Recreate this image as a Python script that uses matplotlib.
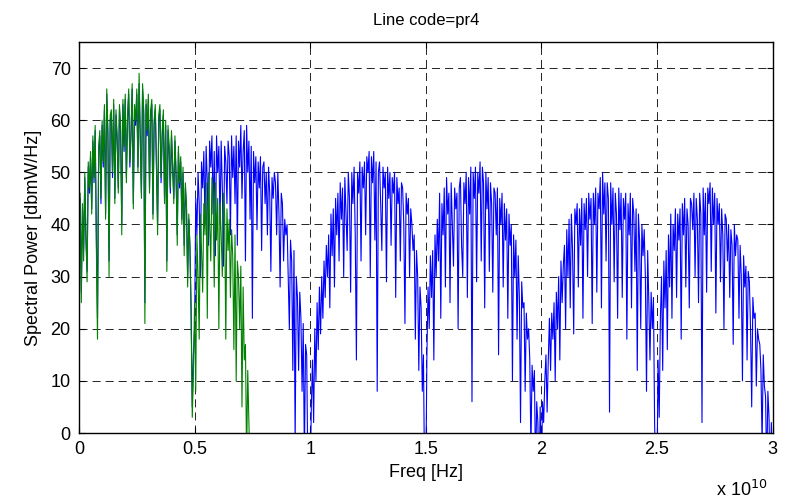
import numpy as np
import matplotlib
matplotlib.use("Agg")
import matplotlib.pyplot as plt

plt.rcParams['font.family'] = ['Liberation Sans', 'DejaVu Sans']
plt.rcParams['lines.scale_dashes'] = False

# Blue series: full spectrum 0 .. 3e10 Hz (dBmW/Hz), one lobe per list
blue_lobe1 = [42, 45, 27, 43, 35, 49, 37, 31, 51, 46,
              53, 43, 56, 48, 58, 38, 22, 54, 57, 44,
              59, 51, 62, 42, 65, 57, 33, 60, 61, 49,
              63, 45, 61, 56, 47, 62, 58, 40, 63, 54,
              64, 49, 60, 65, 51, 57, 66, 44, 62, 59,
              65, 51, 67, 56, 46, 66, 61, 25, 63, 57,
              64, 47, 61, 63, 42, 59, 62, 51, 40, 60,
              62, 48, 57, 61, 45, 59, 33, 58, 54, 46,
              57, 51, 45, 56, 49, 38, 54, 47, 52, 41,
              50, 36, 47, 43, 30, 41, 36, 24, 5, 15]
blue_lobe2 = [20, 45, 38, 50, 44, 30, 52, 47, 54, 40,
              55, 48, 36, 56, 51, 57, 42, 54, 34, 57,
              50, 55, 40, 56, 47, 32, 55, 52, 44, 56,
              53, 38, 57, 49, 55, 44, 57, 36, 56, 51,
              59, 45, 54, 58, 33, 59, 50, 56, 41, 55,
              22, 54, 48, 53, 39, 52, 47, 53, 35, 51,
              52, 44, 50, 38, 51, 46, 31, 49, 45, 50,
              48, 38, 50, 42, 28, 46, 44, 33, 41, 38,
              40, 30, 20, 37, 33, 12, 35, -2, 30, 26,
              12, 27, 22, 8, 21, -5, 17, 15, -8, -10]
blue_lobe3 = [-10, 5, 14, 2, 20, 10, 25, 16, 28, 19,
              30, 22, 33, 26, 36, 30, 38, 24, 42, 34,
              43, 28, 45, 38, 46, 33, 48, 41, 47, 30,
              49, 42, 35, 50, 45, 27, 50, 44, 51, 38,
              14, 50, 46, 52, 33, 51, 47, 52, 38, 53,
              50, 54, 30, 53, 48, 54, 37, 52, 8, 50,
              52, 44, 35, 51, 47, 50, 29, 51, 45, 50,
              36, 49, 46, 50, 26, 49, 44, 47, 33, 48,
              47, 40, 21, 46, 42, 45, 30, 43, 40, 35,
              38, 18, 35, 30, 12, 28, 24, 8, 15, -10]
blue_lobe4 = [-10, 15, 28, 20, 34, 26, 35, 14, 38, 30,
              41, 33, 46, 22, 44, 38, 47, 28, 49, 42,
              46, 25, 48, 40, 32, 47, 43, 46, 20, 47,
              49, 36, 30, 48, 44, 50, 26, 49, 42, 51,
              6, 50, 45, 51, 29, 50, 46, 52, 33, 51,
              48, 24, 50, 43, 49, 31, 48, 44, 27, 47,
              46, 38, 47, 15, 45, 40, 46, 28, 44, 37,
              43, 22, 42, 36, 40, 10, 38, 30, 37, 18,
              34, 26, 2, 29, 24, 25, 8, 23, 18, 20,
              14, -3, 13, 8, 12, -8, 6, 2, -10, 5]
blue_lobe5 = [-10, 6, 2, 10, 15, 4, 14, 22, 12, 23,
              18, 25, 10, 27, 20, 30, 14, 33, 25, 32,
              36, 20, 39, 30, 41, 24, 42, 35, 19, 43,
              40, 44, 28, 43, 36, 45, 22, 44, 39, 45,
              30, 46, 41, 45, 21, 46, 40, 47, 27, 46,
              43, 49, 24, 50, 42, 48, 33, 48, 45, 4,
              48, 40, 47, 29, 46, 42, 22, 47, 39, 46,
              26, 45, 41, 46, 18, 44, 38, 46, 24, 45,
              42, 31, 43, 12, 42, 37, 20, 40, 34, 39,
              30, 8, 35, 25, 14, 27, 20, 26, 2, -10]
blue_lobe6 = [-10, 14, 3, 22, 30, 12, 33, 24, 35, 16,
              38, 28, 42, 22, 40, 35, 43, 26, 42, 37,
              43, 18, 44, 38, 45, 28, 43, 40, 24, 45,
              44, 39, 46, 30, 45, 41, 25, 46, 42, 2,
              47, 38, 46, 27, 47, 44, 48, 31, 47, 40,
              46, 23, 45, 40, 44, 29, 43, 38, 20, 42,
              41, 33, 40, 26, 39, 36, 17, 40, 34, 38,
              37, 22, 36, 30, 10, 34, 28, 32, 14, 31,
              29, 20, 5, 26, 22, 23, 9, 20, 18, 17,
              12, -2, 15, 9, 7, -8, 8, 3, -10, 2,
              -10]

# Green series: 0 .. 0.745e10 Hz
green_lobe1 = [40, 46, 25, 44, 33, 50, 38, 29, 52, 47,
               54, 42, 57, 49, 59, 36, 18, 55, 58, 45,
               60, 52, 63, 41, 66, 58, 30, 61, 62, 50,
               64, 44, 62, 57, 46, 63, 59, 38, 64, 55,
               65, 48, 61, 66, 52, 58, 67, 43, 63, 60,
               66, 50, 69, 57, 45, 67, 62, 21, 64, 58,
               65, 46, 62, 64, 41, 60, 63, 52, 38, 61,
               63, 49, 58, 62, 44, 60, 31, 59, 55, 47,
               58, 52, 44, 57, 50, 36, 55, 48, 53, 40,
               51, 34, 48, 44, 28, 42, 35, 22, 3, 12]
green_lobe2 = [25, 8, 38, 30, 18, 42, 35, 27, 44, 38,
               48, 22, 50, 40, 33, 49, 46, 28, 48, 37,
               45, 20, 44, 38, 30, 46, 42, 18, 43, 35,
               41, 26, 39, 34, 16, 38, 10, 33, 30, 20,
               32, 5, 28, 14, 17, -5, 12, 2, -8, -10]

x_max = 3e10
xticks = [0, 0.5e10, 1e10, 1.5e10, 2e10, 2.5e10, 3e10]
xticklabels = ['0', '0.5', '1', '1.5', '2', '2.5', '3']
yticks = [0, 10, 20, 30, 40, 50, 60, 70]

blue = np.array(blue_lobe1 + blue_lobe2 + blue_lobe3 + blue_lobe4 + blue_lobe5 + blue_lobe6, float)
green = np.array(green_lobe1 + green_lobe2, float)
step = x_max / (len(blue) - 1)
f_blue = np.arange(len(blue)) * step
f_green = np.arange(len(green)) * step

fig = plt.figure(figsize=(7.86, 5.0), dpi=100)
ax = fig.add_axes([79/786, 67/500, (772.5-79)/786, (433-42)/500])

ax.plot(f_blue, blue, color=(0, 0, 1), linewidth=0.8)
ax.plot(f_green, green, color=(0, 0.5, 0), linewidth=0.8)

ax.set_xlim(0, x_max)
ax.set_ylim(0, 75)
ax.set_xticks(xticks)
ax.set_xticklabels(xticklabels)
ax.set_yticks(yticks)
ax.tick_params(direction='in', top=True, right=True, labelsize=13, length=4, width=0.8, pad=6)
ax.grid(True, color='k', linestyle=(0, (5.8, 3.6)), linewidth=0.6)
for s in ax.spines.values():
    s.set_linewidth(1.0)

ax.set_title('Line code=pr4', fontsize=12, pad=12)
ax.set_xlabel('Freq [Hz]', fontsize=13, labelpad=4)
ax.set_ylabel('Spectral Power [dbmW/Hz]', fontsize=13, labelpad=6)
fig.text(716/786, 1 - 490/500, r'x 10$^{10}$', fontsize=13, ha='left', va='center')

fig.savefig('out.png', dpi=100)
